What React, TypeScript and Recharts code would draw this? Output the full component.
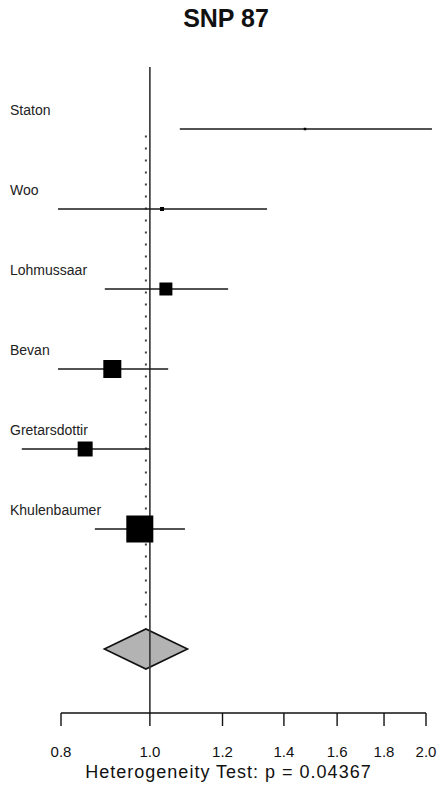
import React from 'react';
import {
  ComposedChart,
  Scatter,
  XAxis,
  YAxis,
  ReferenceLine,
  ReferenceArea,
} from 'recharts';

// per-study odds ratios with 95% CI, top row first
const studies = ['Staton', 'Woo', 'Lohmussaar', 'Bevan', 'Gretarsdottir', 'Khulenbaumer'];
const oddsRatio = [1.476, 1.031, 1.041, 0.91, 0.85, 0.975];
const ciLower = [1.078, 0.794, 0.893, 0.794, 0.725, 0.871];
const ciUpper = [2.03, 1.342, 1.217, 1.047, 1.0, 1.092];
const weights = [0.3, 1.1, 11.5, 22.1, 15.3, 49.7];

// pooled estimate
const summaryOR = 0.99;
const summaryLower = 0.892;
const summaryUpper = 1.099;
const summaryRow = 7.5;

const xTicks = [0.8, 1.0, 1.2, 1.4, 1.6, 1.8, 2.0];
const rowTicks = [1, 2, 3, 4, 5, 6];
const heterogeneityP = 0.04367;

const FONT = '"Liberation Sans", Arial, Helvetica, sans-serif';
const MAX_BOX = 27;
const maxWeight = Math.max(...weights);

// full-bleed page, no scrollbars
document.body.style.margin = '0';
document.documentElement.style.overflow = 'hidden';

const points = studies.map((name, i) => ({
  name,
  or: oddsRatio[i],
  row: i + 1,
  w: weights[i],
}));

// square size ~ sqrt(weight) so the area tracks study weight
const WeightBox = (props: any) => {
  const { cx, cy, payload } = props;
  const side = Math.max(2.5, MAX_BOX * Math.sqrt(payload.w / maxWeight));
  return <rect x={cx - side / 2} y={cy - side / 2} width={side} height={side} fill="#000" />;
};

const StudyTick = (props: any) => {
  const { y, payload } = props;
  return (
    <text x={10} y={y - 14} fontSize={14} fill="#222" fontFamily={FONT} textAnchor="start">
      {studies[payload.value - 1]}
    </text>
  );
};

const OrTick = (props: any) => {
  const { x, y, payload } = props;
  return (
    <text x={x} y={y + 10} fontSize={15} fill="#111" fontFamily={FONT} textAnchor="middle">
      {Number(payload.value).toFixed(1)}
    </text>
  );
};

const Diamond = (props: any) => {
  const { x, y, width, height } = props;
  const pts = [
    [x, y + height / 2],
    [x + width / 2, y],
    [x + width, y + height / 2],
    [x + width / 2, y + height],
  ]
    .map((p) => p.join(','))
    .join(' ');
  return <polygon points={pts} fill="#b3b3b3" stroke="#111" strokeWidth={1.6} />;
};

export default function App() {
  return (
    <div style={{ position: 'relative', width: 440, height: 791, background: '#fff', fontFamily: FONT }}>
      <div
        style={{
          position: 'absolute',
          top: 6,
          left: 0,
          width: 452,
          textAlign: 'center',
          fontSize: 25,
          lineHeight: '25px',
          fontWeight: 'bold',
          color: '#111',
        }}
      >
        SNP 87
      </div>
      <ComposedChart
        width={440}
        height={791}
        margin={{ top: 67, right: 14, left: 10, bottom: 0 }}
        style={{ overflow: 'visible' }}
      >
        <XAxis
          dataKey="or"
          type="number"
          scale="log"
          domain={[0.8, 2.0]}
          allowDataOverflow
          ticks={xTicks}
          interval={0}
          height={78}
          tickSize={13}
          tickMargin={21}
          stroke="#111"
          strokeWidth={1.4}
          tick={<OrTick />}
        />
        <YAxis
          dataKey="row"
          type="number"
          domain={[0.225, 8.3]}
          reversed
          allowDataOverflow
          ticks={rowTicks}
          interval={0}
          width={51}
          axisLine={false}
          tickLine={false}
          tick={<StudyTick />}
        />
        {/* line of no effect */}
        <ReferenceLine x={1} stroke="#333" strokeWidth={1.6} />
        {/* pooled estimate, dotted */}
        <ReferenceLine
          segment={[
            { x: summaryOR, y: 1.08 },
            { x: summaryOR, y: 7.12 },
          ]}
          stroke="#444"
          strokeWidth={2}
          strokeDasharray="2 10"
          ifOverflow="visible"
        />
        {points.map((p, i) => (
          <ReferenceLine
            key={p.name}
            segment={[
              { x: ciLower[i], y: p.row },
              { x: ciUpper[i], y: p.row },
            ]}
            stroke="#1a1a1a"
            strokeWidth={1.4}
            ifOverflow="visible"
          />
        ))}
        <ReferenceArea
          x1={summaryLower}
          x2={summaryUpper}
          y1={summaryRow - 0.25}
          y2={summaryRow + 0.25}
          shape={<Diamond />}
        />
        <Scatter data={points} shape={<WeightBox />} isAnimationActive={false} />
      </ComposedChart>
      <div
        style={{
          position: 'absolute',
          top: 763,
          left: 0,
          width: 457,
          textAlign: 'center',
          fontSize: 18,
          lineHeight: '18px',
          letterSpacing: 1,
          color: '#111',
          whiteSpace: 'nowrap',
        }}
      >
        {`Heterogeneity Test: p = ${heterogeneityP}`}
      </div>
    </div>
  );
}
